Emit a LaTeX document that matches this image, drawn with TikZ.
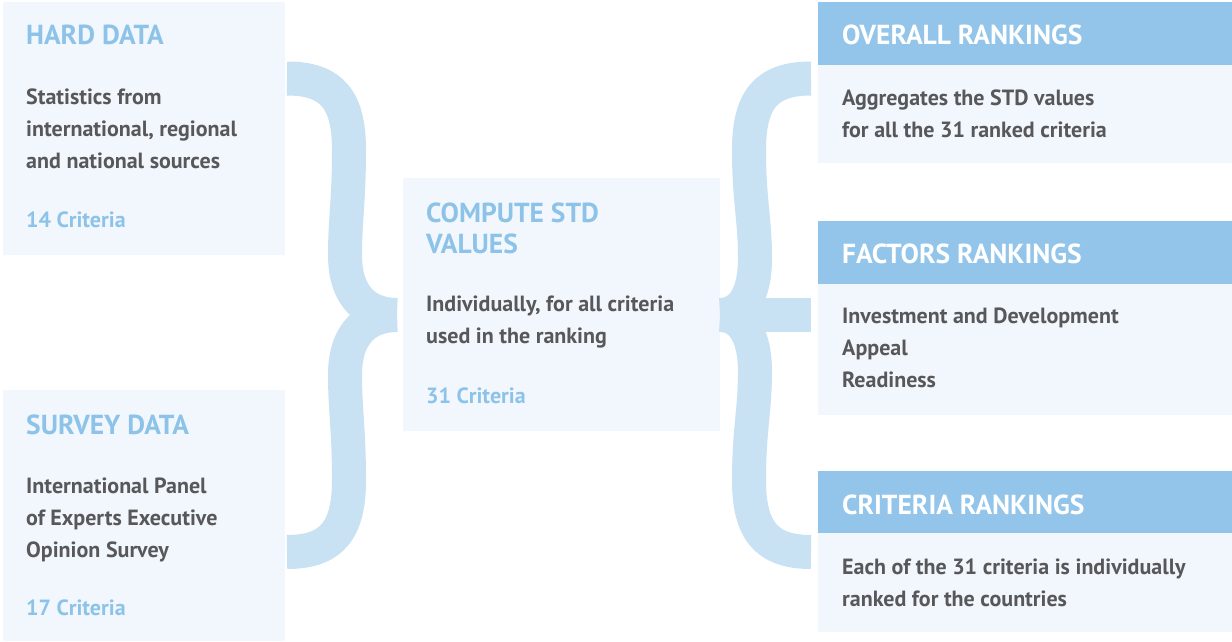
\documentclass[tikz,border=0pt]{standalone}
\usepackage{fontspec}
\usepackage{xcolor}
\setmainfont{PT Sans}
\definecolor{boxpale}{HTML}{F1F7FC}
\definecolor{headblue}{HTML}{92C5E9}
\definecolor{bracelight}{HTML}{C8E1F3}
\definecolor{titleblue}{HTML}{8DC3E8}
\definecolor{bodygrey}{HTML}{58585A}

\begin{document}
\begin{tikzpicture}[x=1pt,y=-1pt,
    panel/.style={fill=boxpale,draw=none,rectangle,inner sep=0pt,anchor=north west},
    header/.style={fill=headblue,draw=none,rectangle,inner sep=0pt,anchor=north west},
    title/.style={anchor=base west,inner sep=0pt,text=titleblue,font=\fontsize{27.5}{31}\selectfont\bfseries,align=left},
    htitle/.style={title,text=white},
    body/.style={anchor=base west,inner sep=0pt,text=bodygrey,font=\fontsize{22}{32}\selectfont\bfseries,align=left},
    count/.style={anchor=base west,inner sep=0pt,text=titleblue,font=\fontsize{22}{32}\selectfont\bfseries},
    brace/.style={draw=bracelight,line width=34pt,line cap=butt}]
  \useasboundingbox (0,0) rectangle (1232,642);

  % input panels (text anchors sit on the last line's baseline)
  \node[panel,minimum width=282pt,minimum height=253pt] (hard) at (3,2) {};
  \node[title] (hardtitle) at (26,45) {HARD DATA};
  \node[body] (hardtext) at (26,168) {Statistics from\\international, regional\\and national sources};
  \node[count] (hardcount) at (26,227) {14 Criteria};

  \node[panel,minimum width=282pt,minimum height=251pt] (survey) at (3,390) {};
  \node[title] (surveytitle) at (26,434) {SURVEY DATA};
  \node[body] (surveytext) at (26,557) {International Panel\\of Experts Executive\\Opinion Survey};
  \node[count] (surveycount) at (26,615) {17 Criteria};

  % centre panel
  \node[panel,minimum width=317pt,minimum height=253pt] (std) at (403,178) {};
  \node[title] (stdtitle) at (426,253) {COMPUTE STD\\VALUES};
  \node[body] (stdtext) at (426,343) {Individually, for all criteria\\used in the ranking};
  \node[count] (stdcount) at (426,403) {31 Criteria};

  % ranking panels
  \node[panel,minimum width=414pt,minimum height=161pt] (overall) at (818,2) {};
  \node[header,minimum width=414pt,minimum height=63pt] (overallhead) at (818,2) {};
  \node[htitle] (overalltitle) at (842,45) {OVERALL RANKINGS};
  \node[body] (overalltext) at (842,137) {Aggregates the STD values\\for all the 31 ranked criteria};

  \node[panel,minimum width=414pt,minimum height=194pt] (factors) at (818,221) {};
  \node[header,minimum width=414pt,minimum height=63pt] (factorshead) at (818,221) {};
  \node[htitle] (factorstitle) at (842,263) {FACTORS RANKINGS};
  \node[body] (factorstext) at (842,387) {Investment and Development\\Appeal\\Readiness};

  \node[panel,minimum width=414pt,minimum height=161pt] (criteria) at (818,471) {};
  \node[header,minimum width=414pt,minimum height=62pt] (criteriahead) at (818,471) {};
  \node[htitle] (criteriatitle) at (842,514) {CRITERIA RANKINGS};
  \node[body] (criteriatext) at (842,606) {Each of the 31 criteria is individually\\ranked for the countries};

  % left brace
  \draw[brace] (287,78.5) .. controls (332,78.5) and (349,100) .. (349,150)
    .. controls (349,200) and (345,220) .. (345,255)
    .. controls (345,298) and (368,315) .. (397,315);
  \draw[brace] (287,552) .. controls (332,552) and (349,530) .. (349,480)
    .. controls (349,430) and (345,410) .. (345,375)
    .. controls (345,332) and (368,315) .. (397,315);

  % right brace
  \draw[brace] (811,78.5) .. controls (766,78.5) and (749,100) .. (749,150)
    .. controls (749,200) and (755,220) .. (755,258)
    .. controls (755,298) and (740,315) .. (720,315);
  \draw[brace] (811,552) .. controls (766,552) and (749,530) .. (749,480)
    .. controls (749,430) and (755,410) .. (755,372)
    .. controls (755,332) and (740,315) .. (720,315);
  \draw[brace] (720,315) -- (811,315);
\end{tikzpicture}
\end{document}
